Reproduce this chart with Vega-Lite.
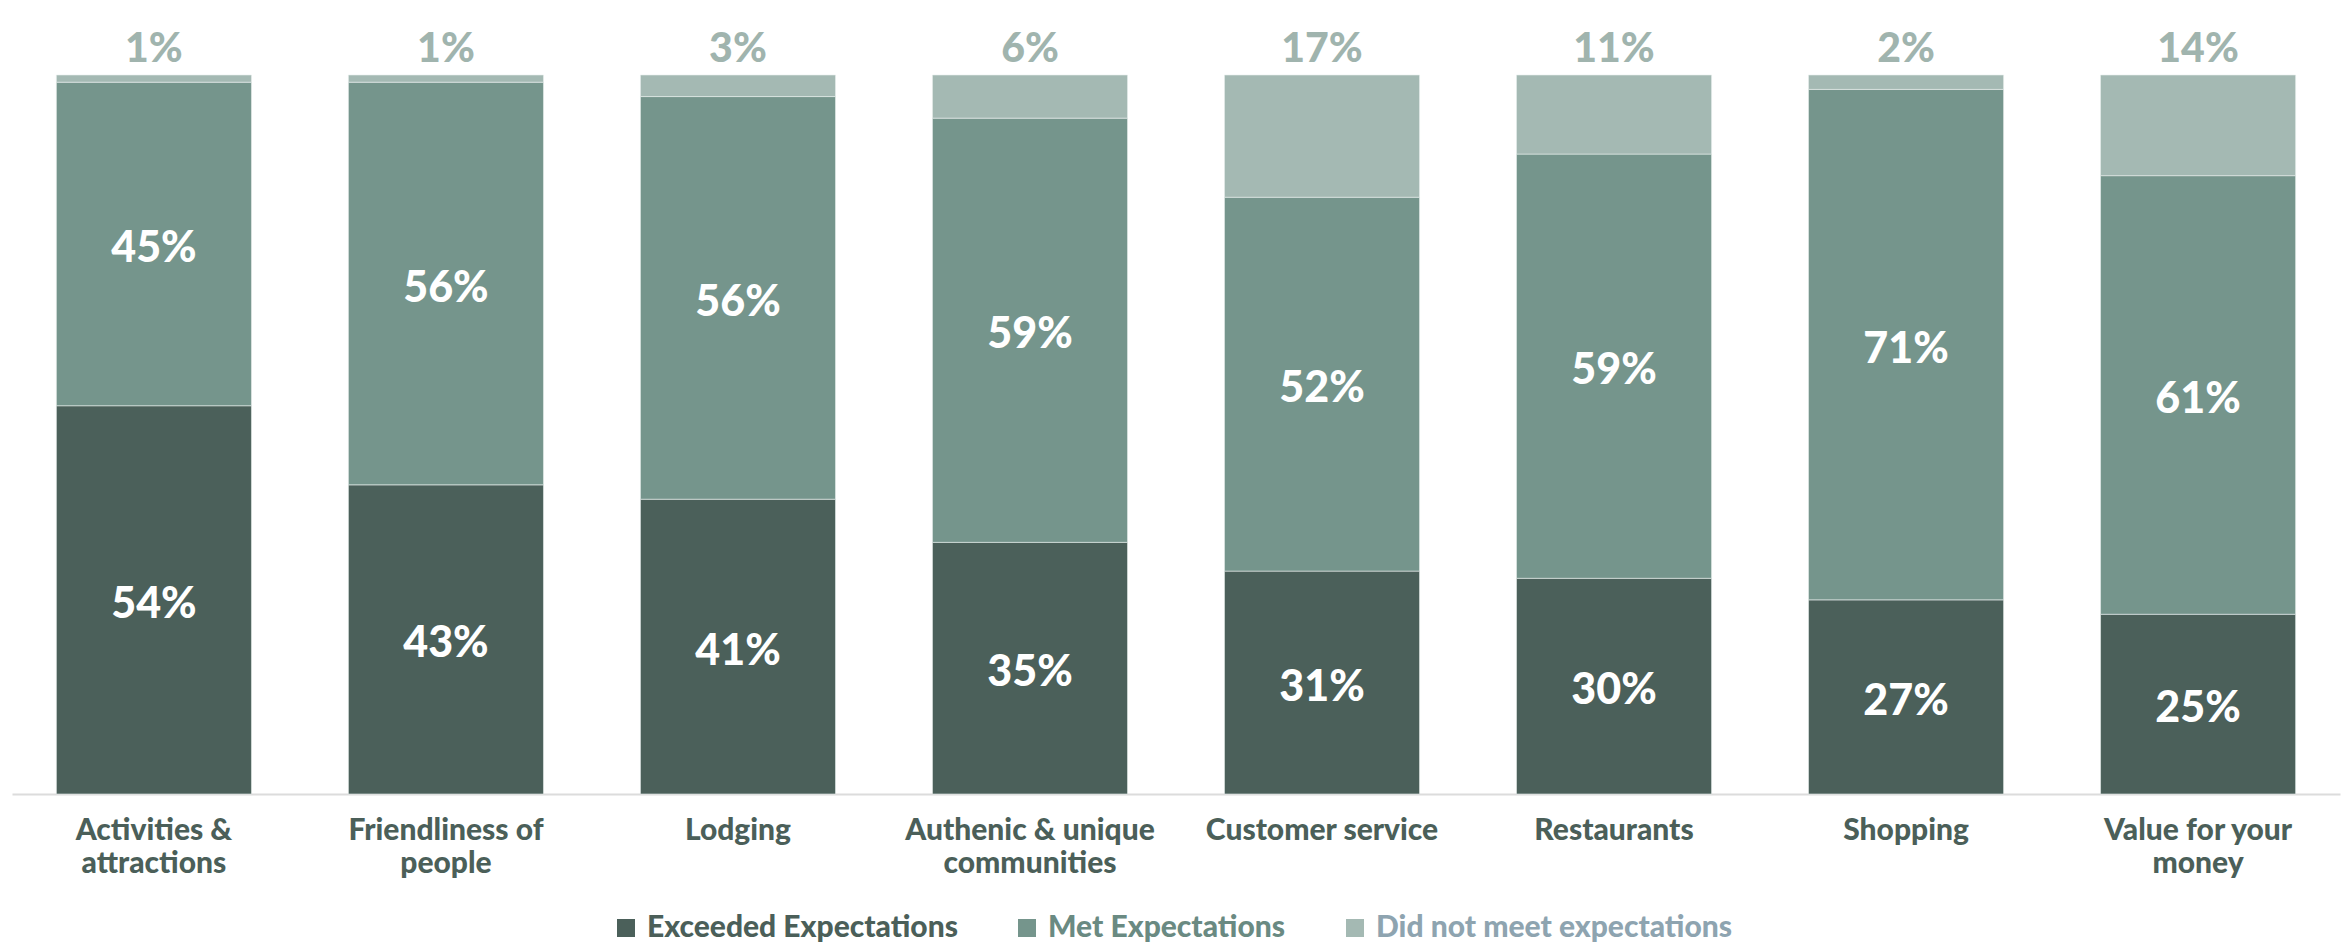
{
  "$schema": "https://vega.github.io/schema/vega-lite/v6.json",
  "autosize": {"type": "none"},
  "width": 2328,
  "height": 719,
  "padding": {"left": 12, "top": 75, "right": 11, "bottom": 153},
  "background": "#ffffff",
  "config": {
    "view": {"stroke": null},
    "font": "Lato",
    "text": {"font": "Lato"}
  },
  "data": {
    "values": [
      {"category": "Activities & attractions", "status": "Exceeded Expectations", "k": 1, "value": 0.54},
      {"category": "Activities & attractions", "status": "Met Expectations", "k": 2, "value": 0.45},
      {"category": "Activities & attractions", "status": "Did not meet expectations", "k": 3, "value": 0.01},
      {"category": "Friendliness of people", "status": "Exceeded Expectations", "k": 1, "value": 0.43},
      {"category": "Friendliness of people", "status": "Met Expectations", "k": 2, "value": 0.56},
      {"category": "Friendliness of people", "status": "Did not meet expectations", "k": 3, "value": 0.01},
      {"category": "Lodging", "status": "Exceeded Expectations", "k": 1, "value": 0.41},
      {"category": "Lodging", "status": "Met Expectations", "k": 2, "value": 0.56},
      {"category": "Lodging", "status": "Did not meet expectations", "k": 3, "value": 0.03},
      {"category": "Authenic & unique communities", "status": "Exceeded Expectations", "k": 1, "value": 0.35},
      {"category": "Authenic & unique communities", "status": "Met Expectations", "k": 2, "value": 0.59},
      {"category": "Authenic & unique communities", "status": "Did not meet expectations", "k": 3, "value": 0.06},
      {"category": "Customer service", "status": "Exceeded Expectations", "k": 1, "value": 0.31},
      {"category": "Customer service", "status": "Met Expectations", "k": 2, "value": 0.52},
      {"category": "Customer service", "status": "Did not meet expectations", "k": 3, "value": 0.17},
      {"category": "Restaurants", "status": "Exceeded Expectations", "k": 1, "value": 0.30},
      {"category": "Restaurants", "status": "Met Expectations", "k": 2, "value": 0.59},
      {"category": "Restaurants", "status": "Did not meet expectations", "k": 3, "value": 0.11},
      {"category": "Shopping", "status": "Exceeded Expectations", "k": 1, "value": 0.27},
      {"category": "Shopping", "status": "Met Expectations", "k": 2, "value": 0.71},
      {"category": "Shopping", "status": "Did not meet expectations", "k": 3, "value": 0.02},
      {"category": "Value for your money", "status": "Exceeded Expectations", "k": 1, "value": 0.25},
      {"category": "Value for your money", "status": "Met Expectations", "k": 2, "value": 0.61},
      {"category": "Value for your money", "status": "Did not meet expectations", "k": 3, "value": 0.14}
    ]
  },
  "encoding": {
    "x": {
      "field": "category",
      "type": "nominal",
      "sort": null,
      "scale": {"paddingInner": 0.332, "paddingOuter": 0.152},
      "axis": {
        "title": null,
        "labelAngle": 0,
        "ticks": false,
        "domainColor": "#dcdcdc",
        "domainWidth": 2,
        "labelFont": "Lato",
        "labelFontWeight": 900,
        "labelFontSize": 30,
        "labelColor": "#4b5f59",
        "labelPadding": 21,
        "labelLineHeight": 33,
        "labelBaseline": "top",
        "labelLimit": 500,
        "labelExpr": "datum.label == 'Activities & attractions' ? ['Activities &', 'attractions'] : datum.label == 'Friendliness of people' ? ['Friendliness of', 'people'] : datum.label == 'Authenic & unique communities' ? ['Authenic & unique', 'communities'] : datum.label == 'Value for your money' ? ['Value for your', 'money'] : datum.label"
      }
    }
  },
  "layer": [
    {
      "mark": {"type": "bar", "stroke": "#e8eeec", "strokeWidth": 1, "strokeOpacity": 0.6},
      "encoding": {
        "y": {"field": "value", "type": "quantitative", "stack": "zero", "scale": {"domain": [0, 1], "nice": false}, "axis": null},
        "order": {"field": "k", "type": "quantitative"},
        "color": {
          "field": "status",
          "type": "nominal",
          "scale": {
            "domain": ["Exceeded Expectations", "Met Expectations", "Did not meet expectations"],
            "range": ["#4b605a", "#75958c", "#a4b9b3"]
          },
          "legend": {
            "title": null,
            "orient": "none",
            "direction": "horizontal",
            "legendX": 599,
            "legendY": 838,
            "symbolType": "square",
            "symbolSize": 324,
            "symbolStrokeWidth": 0,
            "labelFont": "Lato",
            "labelFontWeight": 900,
            "labelFontSize": 30,
            "labelOffset": 6,
            "columnPadding": 54,
            "labelLimit": 600,
            "labelColor": {"expr": "datum.label == 'Exceeded Expectations' ? '#4b5f59' : datum.label == 'Met Expectations' ? '#6a8a82' : '#8ea4b0'"}
          }
        }
      }
    },
    {
      "transform": [{"filter": "datum.k < 3"}],
      "mark": {"type": "text", "color": "#ffffff", "fontWeight": 900, "fontSize": 43, "baseline": "middle", "align": "center", "dy": 5, "font": "Lato"},
      "encoding": {
        "y": {"field": "value", "type": "quantitative", "stack": "zero", "bandPosition": 0.5},
        "order": {"field": "k", "type": "quantitative"},
        "detail": {"field": "status"},
        "text": {"field": "value", "type": "quantitative", "format": ".0%"}
      }
    },
    {
      "transform": [{"filter": "datum.k == 3"}],
      "mark": {"type": "text", "color": "#a0b4ae", "fontWeight": 900, "fontSize": 41, "baseline": "middle", "align": "center", "dy": -25, "font": "Lato"},
      "encoding": {
        "y": {"datum": 1, "type": "quantitative"},
        "text": {"field": "value", "type": "quantitative", "format": ".0%"}
      }
    }
  ]
}
